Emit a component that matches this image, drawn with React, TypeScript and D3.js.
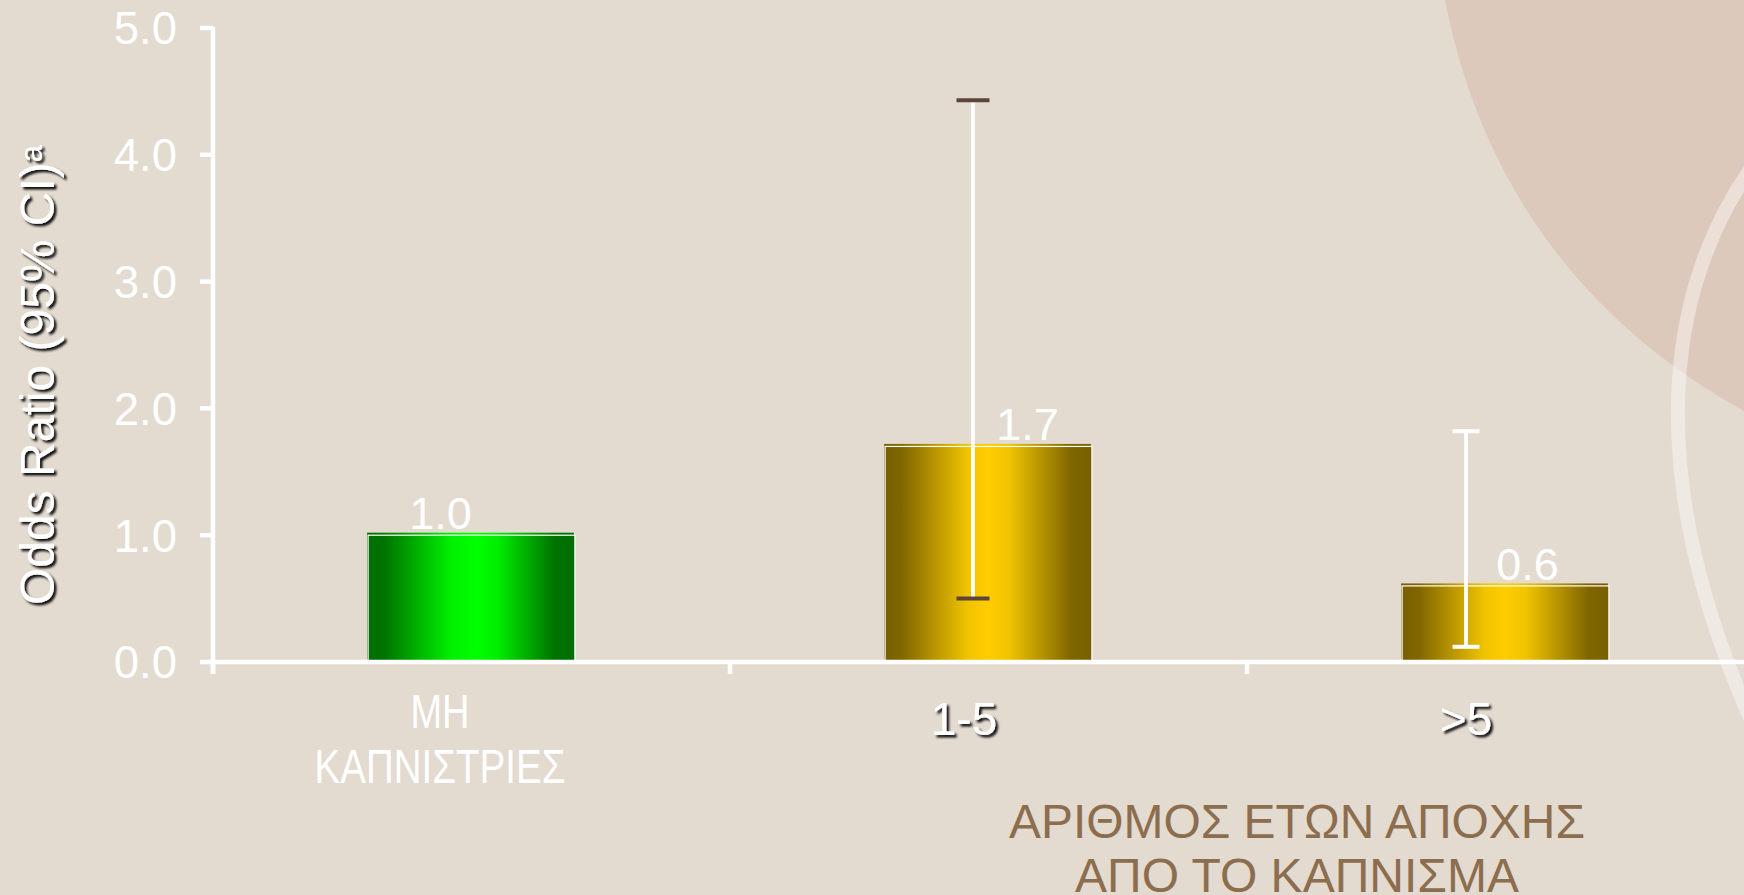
import React from "react";
import * as d3 from "d3";

const categories = ["non", "1-5", ">5"];
const categoryLines = [["ΜΗ", "ΚΑΠΝΙΣΤΡΙΕΣ"], ["1-5"], [">5"]];
const oddsRatios = [1.0, 1.7, 0.6];
const ciLow = [null, 0.5, 0.12];
const ciHigh = [null, 4.43, 1.82];
const valueLabels = ["1.0", "1.7", "0.6"];
const yTicks = [0, 1, 2, 3, 4, 5];
const xTitleLines = ["ΑΡΙΘΜΟΣ ΕΤΩΝ ΑΠΟΧΗΣ", "ΑΠΟ ΤΟ ΚΑΠΝΙΣΜΑ"];

// styling (positions relative to band centres, colours)
const barGradients = ["gGreen", "gGold", "gGold"];
const valueLabelOffsets = [-31, 39, 22];
const errOffsets = [0, -15.5, -39.5];
const capColors = ["#fff", "#5c4536", "#ffffff"];
const capWidths = [0, 33, 27];
const catOffsets = [-31.5, -24.5, -39.5];

const W = 1744;
const H = 895;

export default function App() {
  const x = d3
    .scaleBand<string>()
    .domain(categories)
    .range([213, 213 + 3 * 517])
    .paddingInner(0)
    .paddingOuter(0);
  const y = d3.scaleLinear().domain([0, 5]).range([662, 28]);
  const bw = x.bandwidth() * 0.4;
  const font = "'Liberation Sans', Arial, sans-serif";
  const narrow = "'Liberation Sans Narrow', 'Arial Narrow', 'Liberation Sans', Arial, sans-serif";

  return (
    <div style={{ position: "absolute", left: 0, top: 0, width: W, height: H, overflow: "hidden" }}>
      <svg width={W} height={H} viewBox={`0 0 ${W} ${H}`} style={{ display: "block" }}>
        <defs>
          <linearGradient id="gGreen" x1="0" x2="1" y1="0" y2="0">
            <stop offset="0%" stopColor="#006e00" />
            <stop offset="8%" stopColor="#007400" />
            <stop offset="40%" stopColor="#00f000" />
            <stop offset="52%" stopColor="#00ff00" />
            <stop offset="62%" stopColor="#00f000" />
            <stop offset="90%" stopColor="#007400" />
            <stop offset="100%" stopColor="#006e00" />
          </linearGradient>
          <linearGradient id="gGold" x1="0" x2="1" y1="0" y2="0">
            <stop offset="0%" stopColor="#786000" />
            <stop offset="8%" stopColor="#806600" />
            <stop offset="40%" stopColor="#f0c400" />
            <stop offset="50%" stopColor="#ffcc00" />
            <stop offset="60%" stopColor="#f0c400" />
            <stop offset="90%" stopColor="#806600" />
            <stop offset="100%" stopColor="#786000" />
          </linearGradient>
          <filter id="shadow" x="-10%" y="-10%" width="130%" height="130%">
            <feDropShadow dx="2.5" dy="2.5" stdDeviation="1.1" floodColor="#000" floodOpacity="0.95" />
          </filter>
        </defs>

        <rect x={0} y={0} width={W} height={H} fill="#e3dad0" />
        <path d="M1445 0 C 1480 180, 1580 320, 1744 411 L 1744 0 Z" fill="#ddc8bc" />
        <path
          d="M1800 110 C 1650 260, 1640 480, 1760 740"
          fill="none"
          stroke="#ffffff"
          strokeOpacity={0.42}
          strokeWidth={14}
        />

        {/* bars */}
        {categories.map((c, i) => {
          const bx = (x(c) as number) + x.bandwidth() / 2 - bw / 2;
          const by = y(oddsRatios[i]);
          const bh = y(0) - by;
          return (
            <g key={c}>
              <rect x={bx - 1} y={by - 2.5} width={bw} height={bh} fill={`url(#${barGradients[i]})`} />
              <rect
                x={bx}
                y={by}
                width={bw}
                height={bh}
                fill={`url(#${barGradients[i]})`}
                stroke="#ffffff"
                strokeWidth={1.2}
              />
            </g>
          );
        })}

        {/* axes */}
        <line x1={213} x2={213} y1={y(5) - 1} y2={y(0) + 12} stroke="#fff" strokeWidth={4.5} />
        <line x1={211} x2={W} y1={y(0)} y2={y(0)} stroke="#fff" strokeWidth={4.5} />
        {yTicks.map((t) => (
          <g key={t}>
            <line x1={200} x2={213} y1={y(t)} y2={y(t)} stroke="#fff" strokeWidth={4.5} />
            <text
              x={177}
              y={y(t)}
              dy="0.36em"
              textAnchor="end"
              fontFamily={font}
              fontSize={45.5}
              fill="#ffffff"
            >
              {t.toFixed(1)}
            </text>
          </g>
        ))}
        {categories.map((c) => (
          <line
            key={"xt" + c}
            x1={x(c) as number}
            x2={x(c) as number}
            y1={y(0)}
            y2={y(0) + 12}
            stroke="#fff"
            strokeWidth={4.5}
          />
        ))}

        {/* error bars */}
        {categories.map((c, i) => {
          if (ciLow[i] == null || ciHigh[i] == null) return null;
          const ex = (x(c) as number) + x.bandwidth() / 2 + errOffsets[i];
          const y1 = y(ciHigh[i] as number);
          const y2 = y(ciLow[i] as number);
          return (
            <g key={"e" + c}>
              <line x1={ex} x2={ex} y1={y1} y2={y2} stroke="#fff" strokeWidth={3.8} />
              <line
                x1={ex - capWidths[i] / 2}
                x2={ex + capWidths[i] / 2}
                y1={y1}
                y2={y1}
                stroke={capColors[i]}
                strokeWidth={4}
              />
              <line
                x1={ex - capWidths[i] / 2}
                x2={ex + capWidths[i] / 2}
                y1={y2}
                y2={y2}
                stroke={capColors[i]}
                strokeWidth={4}
              />
            </g>
          );
        })}

        {/* value labels */}
        {categories.map((c, i) => (
          <text
            key={"v" + c}
            x={(x(c) as number) + x.bandwidth() / 2 + valueLabelOffsets[i]}
            y={y(oddsRatios[i]) - 6}
            textAnchor="middle"
            fontFamily={font}
            fontSize={45}
            fill="#ffffff"
          >
            {valueLabels[i]}
          </text>
        ))}

        {/* category labels */}
        <text
          x={(x(categories[0]) as number) + x.bandwidth() / 2 + catOffsets[0]}
          y={728}
          textAnchor="middle"
          fontFamily={narrow}
          fontSize={49}
          fill="#ffffff"
          textLength={59}
          lengthAdjust="spacingAndGlyphs"
        >
          {categoryLines[0][0]}
        </text>
        <text
          x={(x(categories[0]) as number) + x.bandwidth() / 2 + catOffsets[0]}
          y={783}
          textAnchor="middle"
          fontFamily={narrow}
          fontSize={49}
          fill="#ffffff"
          textLength={251}
          lengthAdjust="spacingAndGlyphs"
        >
          {categoryLines[0][1]}
        </text>
        <g filter="url(#shadow)">
          {categories.slice(1).map((c, j) => (
            <text
              key={"c" + c}
              x={(x(c) as number) + x.bandwidth() / 2 + catOffsets[j + 1]}
              y={735}
              textAnchor="middle"
              fontFamily={font}
              fontSize={46}
              fill="#ffffff"
            >
              {categoryLines[j + 1][0]}
            </text>
          ))}
        </g>

        {/* y title */}
        <g filter="url(#shadow)">
          <text
            transform="translate(54,605) rotate(-90)"
            fontFamily={font}
            fontSize={48}
            fill="#ffffff"
          >
            Odds Ratio (95% CI)
            <tspan fontSize={31} dy={-12}>
              a
            </tspan>
          </text>
        </g>

        {/* x title */}
        {xTitleLines.map((t, i) => (
          <text
            key={t}
            x={1297}
            y={838 + i * 54}
            textAnchor="middle"
            fontFamily={font}
            fontSize={48}
            fill="#8c6d4d"
            textLength={i === 0 ? 576 : 444}
            lengthAdjust="spacingAndGlyphs"
          >
            {t}
          </text>
        ))}
      </svg>
    </div>
  );
}
